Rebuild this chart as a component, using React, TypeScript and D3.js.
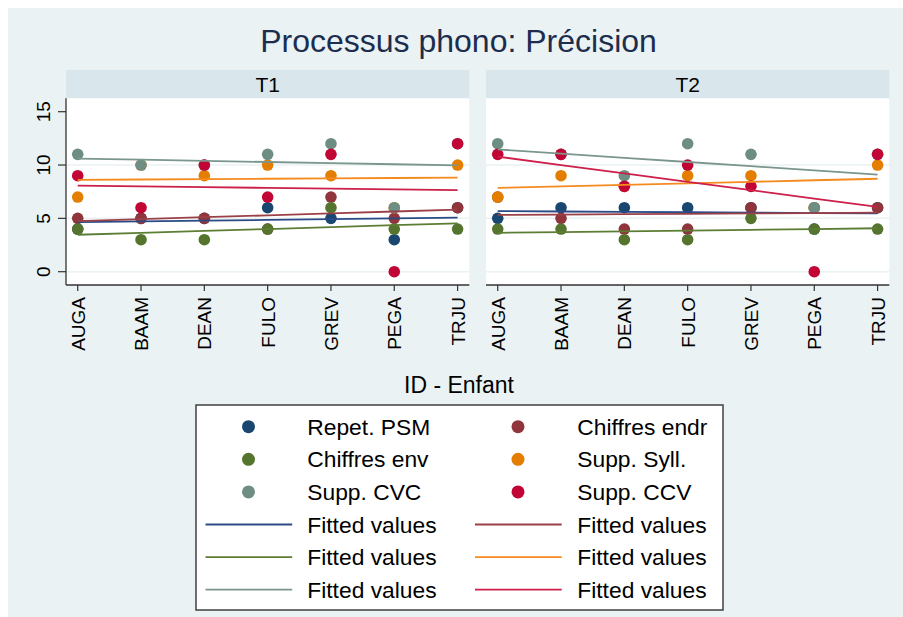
import React from "react";
import * as d3 from "d3";

const ids = ["AUGA", "BAAM", "DEAN", "FULO", "GREV", "PEGA", "TRJU"];
const panels = ["T1", "T2"];
const yTicks = [0, 5, 10, 15];
const gridTicks = [0, 5, 10];

const seriesNames = ["Repet. PSM", "Chiffres endr", "Chiffres env", "Supp. Syll.", "Supp. CVC", "Supp. CCV"];

const repetPSM_T1 = [4, 5, 5, 6, 5, 3, 6];
const repetPSM_T2 = [5, 6, 6, 6, 6, 4, 6];
const chiffresEndr_T1 = [5, 5, 5, 4, 7, 5, 6];
const chiffresEndr_T2 = [7, 5, 4, 4, 6, 6, 6];
const chiffresEnv_T1 = [4, 3, 3, 4, 6, 4, 4];
const chiffresEnv_T2 = [4, 4, 3, 3, 5, 4, 4];
const suppSyll_T1 = [7, 10, 9, 10, 9, 6, 10];
const suppSyll_T2 = [7, 9, 8, 9, 9, 6, 10];
const suppCVC_T1 = [11, 10, 10, 11, 12, 6, 12];
const suppCVC_T2 = [12, 11, 9, 12, 11, 6, 11];
const suppCCV_T1 = [9, 6, 10, 7, 11, 0, 12];
const suppCCV_T2 = [11, 11, 8, 10, 8, 0, 11];

const dataT1 = [repetPSM_T1, chiffresEndr_T1, chiffresEnv_T1, suppSyll_T1, suppCVC_T1, suppCCV_T1];
const dataT2 = [repetPSM_T2, chiffresEndr_T2, chiffresEnv_T2, suppSyll_T2, suppCVC_T2, suppCCV_T2];

const markerColors = ["#1a476f", "#90353b", "#55752f", "#e37e00", "#6e8e84", "#c10534"];
const lineColors = ["#2a4a86", "#9c4048", "#5c7d34", "#f58a1f", "#7a968d", "#cc1f4a"];

const FONT = "'Liberation Sans', Arial, Helvetica, sans-serif";

function fit(vals: number[]) {
  const xs = vals.map((_, i) => i + 1);
  const mx = d3.mean(xs) as number;
  const my = d3.mean(vals) as number;
  let sxy = 0, sxx = 0;
  xs.forEach((x, i) => { sxy += (x - mx) * (vals[i] - my); sxx += (x - mx) * (x - mx); });
  const b = sxy / sxx;
  const a = my - b * mx;
  return xs.map((x) => a + b * x);
}

export default function App() {
  const W = 903, H = 617;
  const plotTop = 98.3, plotBottom = 285;
  const stripTop = 70;
  const panelX = [[66, 469.3], [486, 889.3]];
  const y = d3.scaleLinear().domain([0, 15]).range([271.7, 111.7]);

  const panelData = [dataT1, dataT2];

  return (
    <svg width={W} height={H} style={{ display: "block", position: "fixed", left: 0, top: 0 }} fontFamily={FONT}>
      <rect x={0} y={0} width={W} height={H} fill="#ffffff" />
      <rect x={8} y={8} width={W - 8} height={H - 8} fill="#eaf2f3" />
      <text x={458.5} y={52.3} textAnchor="middle" fontSize={32} fill="#1c2d4f">Processus phono: Précision</text>

      {panels.map((p, pi) => {
        const [x0, x1] = panelX[pi];
        const x = d3.scalePoint<string>().domain(ids).range([x0, x1]).padding(0.185);
        const data = panelData[pi];
        const lineGen = d3.line<number>().x((_, i) => x(ids[i]) as number).y((v) => y(v));
        return (
          <g key={p}>
            <rect x={x0} y={stripTop} width={x1 - x0} height={plotTop - stripTop} fill="#d9e6ec" />
            <text x={(x0 + x1) / 2} y={91.7} textAnchor="middle" fontSize={21} fill="#000">{p}</text>
            <rect x={x0} y={plotTop} width={x1 - x0} height={plotBottom - plotTop} fill="#ffffff" />
            {gridTicks.map((t) => (
              <line key={t} x1={x0} x2={x1} y1={y(t)} y2={y(t)} stroke="#eaf2f3" strokeWidth={1.5} />
            ))}
            {data.map((vals, si) => (
              <g key={si}>
                {vals.map((v, i) => (
                  <circle key={i} cx={x(ids[i]) as number} cy={y(v)} r={5.8} fill={markerColors[si]} />
                ))}
              </g>
            ))}
            {data.map((vals, si) => (
              <path key={si} d={lineGen(fit(vals)) as string} fill="none" stroke={lineColors[si]} strokeWidth={1.8} />
            ))}
            <line x1={x0} x2={x1} y1={plotBottom} y2={plotBottom} stroke="#333" strokeWidth={1.3} />
            {pi === 0 && <line x1={x0} x2={x0} y1={plotTop} y2={plotBottom} stroke="#333" strokeWidth={1.3} />}
            {ids.map((id) => {
              const xx = x(id) as number;
              return (
                <g key={id}>
                  <line x1={xx} x2={xx} y1={plotBottom} y2={plotBottom + 6} stroke="#333" strokeWidth={1.2} />
                  <text transform={`translate(${xx + 7},297) rotate(-90)`} textAnchor="end" fontSize={19} fill="#000">{id}</text>
                </g>
              );
            })}
            {pi === 0 && yTicks.map((t) => (
              <g key={t}>
                <line x1={x0 - 8} x2={x0} y1={y(t)} y2={y(t)} stroke="#333" strokeWidth={1.2} />
                <text transform={`translate(50,${y(t)}) rotate(-90)`} textAnchor="middle" fontSize={19} fill="#000">{t}</text>
              </g>
            ))}
          </g>
        );
      })}

      <text x={459} y={393} textAnchor="middle" fontSize={23} fill="#000">ID - Enfant</text>

      <rect x={196} y={405} width={527} height={205} fill="#ffffff" stroke="#404040" strokeWidth={1.5} />
      {seriesNames.map((name, i) => {
        const col = i % 2;
        const row = Math.floor(i / 2);
        const cy = 426.7 + row * 32.6;
        const mx = col === 0 ? 248.5 : 518;
        const tx = col === 0 ? 307.3 : 577.3;
        return (
          <g key={name}>
            <circle cx={mx} cy={cy} r={6.5} fill={markerColors[i]} />
            <text x={tx} y={cy + 8} fontSize={22.8} fill="#000">{name}</text>
          </g>
        );
      })}
      {seriesNames.map((name, i) => {
        const col = i % 2;
        const row = Math.floor(i / 2) + 3;
        const cy = 426.7 + row * 32.6;
        const lx0 = col === 0 ? 205.5 : 475;
        const tx = col === 0 ? 307.3 : 577.3;
        return (
          <g key={"f" + name}>
            <line x1={lx0} x2={lx0 + 86.7} y1={cy} y2={cy} stroke={lineColors[i]} strokeWidth={1.8} />
            <text x={tx} y={cy + 8} fontSize={22.8} fill="#000">Fitted values</text>
          </g>
        );
      })}
    </svg>
  );
}
